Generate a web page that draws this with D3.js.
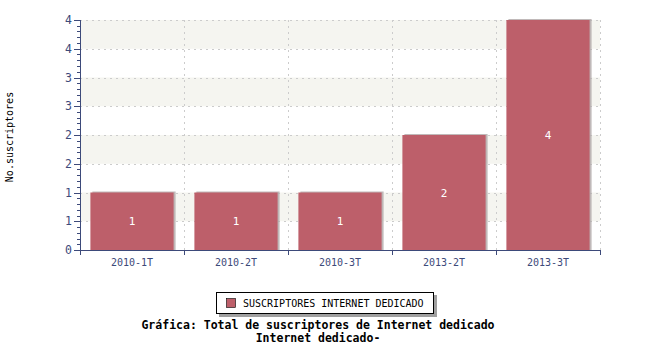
<!DOCTYPE html>
<html>
<head>
<meta charset="utf-8">
<script src="https://cdn.jsdelivr.net/npm/d3@7"></script>
<style>
body { margin: 0; background: #fff; }
text { font-family: "DejaVu Sans Mono", monospace; }
</style>
</head>
<body>
<script>
// datos
var periodos = ["2010-1T", "2010-2T", "2010-3T", "2013-2T", "2013-3T"];
var suscriptores = [1, 1, 1, 2, 4];
var serieNombre = "SUSCRIPTORES INTERNET DEDICADO";
var titulo = ["Gráfica: Total de suscriptores de Internet dedicado", "Internet dedicado-"];
var yTitulo = "No.suscriptores";

// (ojo: "top" es window.top, no se puede usar)
var width = 650, height = 350,
    pLeft = 80, pRight = 600, pTop = 20, pBottom = 250;

var axisColor = "#3d4a7a",
    barColor = "#bd5f6a";

var svg = d3.select("body").append("svg")
    .attr("width", width)
    .attr("height", height);

var x = d3.scaleBand().domain(periodos).range([pLeft, pRight]);
var y = d3.scaleLinear().domain([0, 4]).range([pBottom, pTop]);

var majors = d3.range(0, 4.01, 0.5);
var minors = d3.range(0, 4.001, 0.1);

// bandas alternas
var bandas = d3.range(0.5, 4, 1);
svg.append("g").selectAll("rect")
    .data(bandas)
    .enter()
    .append("rect")
    .attr("x", pLeft)
    .attr("y", function(d) { return y(d + 0.5); })
    .attr("width", pRight - pLeft)
    .attr("height", function(d) { return y(d) - y(d + 0.5); })
    .attr("fill", "#f5f5f0");

// rejilla
var grid = svg.append("g")
    .attr("stroke", "#cccccc")
    .attr("stroke-dasharray", "2,4");
grid.selectAll(".h")
    .data(majors.slice(1))
    .enter()
    .append("line")
    .attr("x1", pLeft).attr("x2", pRight)
    .attr("y1", function(d) { return Math.round(y(d)) + 0.5; })
    .attr("y2", function(d) { return Math.round(y(d)) + 0.5; });
grid.selectAll(".v")
    .data(periodos)
    .enter()
    .append("line")
    .attr("x1", function(d) { return Math.round(x(d) + x.bandwidth()) + 0.5; })
    .attr("x2", function(d) { return Math.round(x(d) + x.bandwidth()) + 0.5; })
    .attr("y1", pTop).attr("y2", pBottom);

// barras
var bw = x.bandwidth() * 0.8,
    off = (x.bandwidth() - bw) / 2;
var barras = svg.append("g");
barras.selectAll(".sombra")
    .data(suscriptores)
    .enter()
    .append("rect")
    .attr("x", function(d, i) { return x(periodos[i]) + off + 2; })
    .attr("y", function(d) { return y(d) - 1; })
    .attr("width", bw)
    .attr("height", function(d) { return pBottom - y(d) + 1; })
    .attr("fill", "#b0a8a8")
    .attr("opacity", 0.8);
barras.selectAll(".barra")
    .data(suscriptores)
    .enter()
    .append("rect")
    .attr("x", function(d, i) { return x(periodos[i]) + off; })
    .attr("y", function(d) { return y(d); })
    .attr("width", bw)
    .attr("height", function(d) { return pBottom - y(d); })
    .attr("fill", barColor);
barras.selectAll("text")
    .data(suscriptores)
    .enter()
    .append("text")
    .attr("x", function(d, i) { return x(periodos[i]) + x.bandwidth() / 2; })
    .attr("y", function(d) { return (y(d) + pBottom) / 2 + 4; })
    .attr("text-anchor", "middle")
    .attr("font-size", "11px")
    .attr("fill", "#ffffff")
    .text(function(d) { return d; });

// eje y
var ejeY = svg.append("g").attr("stroke", axisColor);
ejeY.append("line")
    .attr("x1", pLeft + 0.5).attr("x2", pLeft + 0.5)
    .attr("y1", pTop).attr("y2", pBottom + 5);
ejeY.selectAll(".menor")
    .data(minors)
    .enter()
    .append("line")
    .attr("x1", pLeft - 3).attr("x2", pLeft)
    .attr("y1", function(d) { return Math.round(y(d)) + 0.5; })
    .attr("y2", function(d) { return Math.round(y(d)) + 0.5; });
ejeY.selectAll(".mayor")
    .data(majors)
    .enter()
    .append("line")
    .attr("x1", pLeft - 6).attr("x2", pLeft)
    .attr("y1", function(d) { return Math.round(y(d)) + 0.5; })
    .attr("y2", function(d) { return Math.round(y(d)) + 0.5; });
svg.append("g").selectAll("text")
    .data(majors)
    .enter()
    .append("text")
    .attr("x", pLeft - 8)
    .attr("y", function(d) { return y(d) + 4; })
    .attr("text-anchor", "end")
    .attr("font-size", "11.5px")
    .attr("fill", axisColor)
    .text(function(d) { return Math.round(d); });

// eje x
var ejeX = svg.append("g").attr("stroke", axisColor);
ejeX.append("line")
    .attr("x1", pLeft).attr("x2", pRight + 1)
    .attr("y1", pBottom + 0.5).attr("y2", pBottom + 0.5);
ejeX.selectAll(".tick")
    .data([periodos[0]].concat(periodos))
    .enter()
    .append("line")
    .attr("x1", function(d, i) { return i == 0 ? pLeft + 0.5 : Math.round(x(d) + x.bandwidth()) + 0.5; })
    .attr("x2", function(d, i) { return i == 0 ? pLeft + 0.5 : Math.round(x(d) + x.bandwidth()) + 0.5; })
    .attr("y1", pBottom).attr("y2", pBottom + 5);
svg.append("g").selectAll("text")
    .data(periodos)
    .enter()
    .append("text")
    .attr("x", function(d) { return x(d) + x.bandwidth() / 2; })
    .attr("y", 266)
    .attr("text-anchor", "middle")
    .attr("font-size", "10px")
    .attr("fill", axisColor)
    .text(function(d) { return d; });

// titulo eje y
svg.append("text")
    .attr("transform", "translate(13,137)rotate(-90)")
    .attr("text-anchor", "middle")
    .attr("font-size", "10px")
    .attr("fill", "#000")
    .text(yTitulo);

// leyenda
var ley = svg.append("g");
ley.append("rect")
    .attr("x", 219).attr("y", 295)
    .attr("width", 218).attr("height", 22)
    .attr("fill", "#a0a0a0");
ley.append("rect")
    .attr("x", 216.5).attr("y", 292.5)
    .attr("width", 217).attr("height", 21)
    .attr("fill", "#fff")
    .attr("stroke", "#000");
ley.append("rect")
    .attr("x", 226.5).attr("y", 298.5)
    .attr("width", 9).attr("height", 9)
    .attr("fill", barColor)
    .attr("stroke", "#000")
    .attr("stroke-width", 0.6);
ley.append("text")
    .attr("x", 243).attr("y", 307)
    .attr("font-size", "10px")
    .attr("fill", "#000")
    .text(serieNombre);

// titulo
svg.append("g").selectAll("text")
    .data(titulo)
    .enter()
    .append("text")
    .attr("x", 318)
    .attr("y", function(d, i) { return 329 + i * 13; })
    .attr("text-anchor", "middle")
    .attr("font-size", "11.5px")
    .attr("font-weight", "bold")
    .attr("fill", "#000")
    .text(function(d) { return d; });
</script>
</body>
</html>
